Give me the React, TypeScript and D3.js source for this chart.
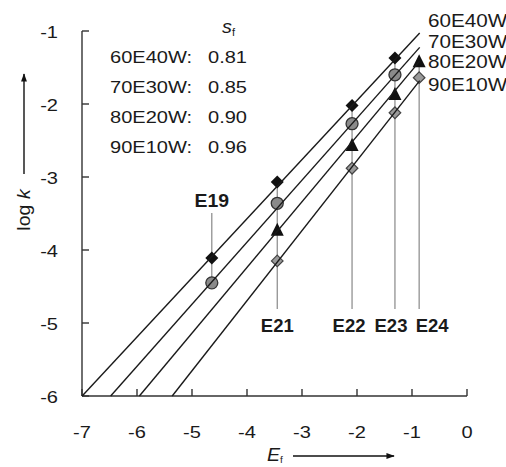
import React from "react";
import * as d3 from "d3";

const solvents = ["60E40W", "70E30W", "80E20W", "90E10W"];
const sfValues = ["0.81", "0.85", "0.90", "0.96"];
const slopes = [0.81, 0.85, 0.9, 0.96];
const intercepts = [-0.41, -0.58, -0.71, -0.89];
const electrophiles = ["E19", "E21", "E22", "E23", "E24"];
const eValues = [-4.64, -3.45, -2.09, -1.31, -0.87];
const logk60 = [-4.11, -3.07, -2.02, -1.37, null];
const logk70 = [-4.45, -3.36, -2.27, -1.6, null];
const logk80 = [null, -3.73, -2.57, -1.87, -1.42];
const logk90 = [null, -4.15, -2.88, -2.12, -1.64];
const xTicks = [-7, -6, -5, -4, -3, -2, -1, 0];
const yTicks = [-6, -5, -4, -3, -2, -1];
const lineEndE = -0.86;

const series = [logk60, logk70, logk80, logk90];

const FONT = "'Liberation Sans', Arial, Helvetica, sans-serif";
const SX = 1.18;

function T({ x, y, children, anchor = "start", size = 17, weight = "normal", sx = SX, italic = false }: any) {
  return (
    <text
      transform={`translate(${x},${y}) scale(${sx},1)`}
      textAnchor={anchor}
      fontSize={size}
      fontWeight={weight}
      fontStyle={italic ? "italic" : "normal"}
      fontFamily={FONT}
      fill="#1a1a1a"
    >
      {children}
    </text>
  );
}

function Marker({ type, cx, cy }: { type: number; cx: number; cy: number }) {
  if (type === 0) {
    const s = 6.5;
    return <path d={`M${cx},${cy - s}L${cx + s},${cy}L${cx},${cy + s}L${cx - s},${cy}Z`} fill="#111" />;
  }
  if (type === 1) {
    return <circle cx={cx} cy={cy} r={6} fill="#8a8a8a" stroke="#333" strokeWidth={1.3} />;
  }
  if (type === 2) {
    const s = 6.5;
    return <path d={`M${cx},${cy - s - 1}L${cx + s},${cy + s - 1}L${cx - s},${cy + s - 1}Z`} fill="#111" />;
  }
  const s = 5.8;
  return (
    <path
      d={`M${cx},${cy - s}L${cx + s},${cy}L${cx},${cy + s}L${cx - s},${cy}Z`}
      fill="#9a9a9a"
      stroke="#444"
      strokeWidth={1.2}
    />
  );
}

export default function App() {
  const x = d3.scaleLinear().domain([-7, 0]).range([82, 467]);
  const y = d3.scaleLinear().domain([-6, -1]).range([396, 31]);
  const axisColor = "#333";

  const labelBelowY = 332;
  const labelOffsets = [0, 0, -3, -4, 13];

  return (
    <svg
      width={506}
      height={467}
      style={{ position: "absolute", left: 0, top: 0, background: "#fff" }}
    >
      <defs>
        <marker id="arr" viewBox="0 0 10 10" refX="9" refY="5" markerWidth="6" markerHeight="6" orient="auto">
          <path d="M0,1.5L10,5L0,8.5Z" fill="#111" />
        </marker>
      </defs>

      {/* axes */}
      <line x1={x(-7)} y1={y(-1)} x2={x(-7)} y2={y(-6)} stroke={axisColor} strokeWidth={1.4} />
      <line x1={x(-7)} y1={y(-6)} x2={x(0)} y2={y(-6)} stroke={axisColor} strokeWidth={1.4} />
      {yTicks.map((t) => (
        <g key={"yt" + t}>
          <line x1={x(-7)} x2={x(-7) + 7} y1={y(t)} y2={y(t)} stroke={axisColor} strokeWidth={1.4} />
          <T x={58} y={y(t) + 7} anchor="end">{String(t)}</T>
        </g>
      ))}
      {xTicks.map((t) => (
        <g key={"xt" + t}>
          <line x1={x(t)} x2={x(t)} y1={y(-6)} y2={y(-6) - 7} stroke={axisColor} strokeWidth={1.4} />
          <T x={x(t)} y={438} anchor="middle">{String(t)}</T>
        </g>
      ))}

      {/* axis titles */}
      <g transform="translate(30,210) rotate(-90)">
        <text textAnchor="middle" fontSize={17.5} fontFamily={FONT} fill="#1a1a1a" transform={`scale(1.12,1)`}>
          log <tspan fontStyle="italic">k</tspan>
        </text>
      </g>
      <line x1={24} y1={174} x2={24} y2={74} stroke="#111" strokeWidth={1.4} markerEnd="url(#arr)" />
      <g transform="translate(267,461)">
        <text fontSize={17.5} fontFamily={FONT} fill="#1a1a1a" fontStyle="italic" transform="scale(1.12,1)">
          E<tspan fontSize={9} dy={2} fontStyle="normal">f</tspan>
        </text>
      </g>
      <line x1={293} y1={456} x2={394} y2={456} stroke="#111" strokeWidth={1.4} markerEnd="url(#arr)" />

      {/* drop lines and electrophile labels */}
      {electrophiles.map((name, i) => {
        const vals = series.map((s) => s[i]).filter((v) => v !== null) as number[];
        const top = d3.max(vals) as number;
        const bottom = d3.min(vals) as number;
        const xe = x(eValues[i]);
        if (i === 0) {
          return (
            <g key={name}>
              <line x1={xe} x2={xe} y1={213} y2={y(bottom)} stroke="#888" strokeWidth={1.2} />
              <T x={xe} y={207} anchor="middle" size={18.5} weight="bold" sx={1.05}>{name}</T>
            </g>
          );
        }
        return (
          <g key={name}>
            <line x1={xe} x2={xe} y1={y(top)} y2={309} stroke="#888" strokeWidth={1.2} />
            <T x={xe + labelOffsets[i]} y={labelBelowY} anchor="middle" size={18.5} weight="bold" sx={1.0}>{name}</T>
          </g>
        );
      })}

      {/* markers */}
      {series.map((s, si) =>
        s.map((v, i) =>
          v === null ? null : <Marker key={`m${si}-${i}`} type={si} cx={x(eValues[i])} cy={y(v)} />
        )
      )}

      {/* fit lines */}
      {slopes.map((sl, i) => {
        const eStart = -6 / sl - intercepts[i];
        const p0 = [x(eStart), y(-6)];
        const p1 = [x(lineEndE), y(sl * (lineEndE + intercepts[i]))];
        return (
          <line key={"fl" + i} x1={p0[0]} y1={p0[1]} x2={p1[0]} y2={p1[1]} stroke="#1a1a1a" strokeWidth={1.4} />
        );
      })}

      {/* solvent labels on right */}
      {solvents.map((sname, i) => (
        <T key={"rl" + i} x={428} y={[27, 48, 68, 91][i]} size={17.5}>{sname}</T>
      ))}

      {/* legend */}
      <g transform="translate(222,33)">
        <text fontSize={18} fontFamily={FONT} fontStyle="italic" fill="#1a1a1a" transform="scale(1.1,1)">
          s<tspan fontSize={10} dy={3} fontStyle="normal">f</tspan>
        </text>
      </g>
      {solvents.map((sname, i) => (
        <g key={"lg" + i}>
          <T x={110} y={63 + 30 * i}>{sname + ":"}</T>
          <T x={208} y={63 + 30 * i}>{sfValues[i]}</T>
        </g>
      ))}
    </svg>
  );
}
